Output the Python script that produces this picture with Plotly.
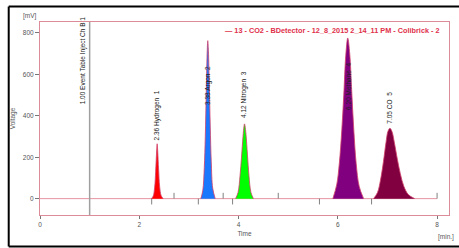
import plotly.graph_objects as go

# ---- data ----
peak_names = ["2.36 Hydrogen  1", "3.38 Argon  2", "4.12 Nitrogen  3", "6.20 Methane  4", "7.05 CO  5"]
peak_colors = ["#ff0000", "#1a78ff", "#00ff00", "#800080", "#800040"]
label_bottom_mv = [272, 444, 380, 420, 352]

h2_t = [2.24, 2.28, 2.31, 2.33, 2.35, 2.36, 2.37, 2.39, 2.41, 2.44, 2.48]
h2_v = [0, 12, 55, 130, 230, 265, 235, 140, 60, 15, 0]

ar_t = [3.24, 3.28, 3.31, 3.33, 3.35, 3.37, 3.38, 3.39, 3.41, 3.43, 3.45, 3.48, 3.53]
ar_v = [0, 40, 150, 300, 520, 720, 763, 730, 560, 350, 180, 50, 0]

n2_t = [3.94, 3.99, 4.03, 4.06, 4.09, 4.11, 4.12, 4.13, 4.15, 4.18, 4.21, 4.25, 4.30]
n2_v = [0, 30, 110, 200, 300, 350, 361, 352, 310, 210, 110, 30, 0]

ch4_t = [5.90, 5.98, 6.03, 6.08, 6.12, 6.16, 6.20, 6.24, 6.28, 6.32, 6.37, 6.43, 6.52]
ch4_v = [0, 70, 170, 330, 500, 690, 776, 700, 520, 340, 170, 60, 0]

co_t = [6.72, 6.80, 6.86, 6.92, 6.97, 7.01, 7.05, 7.09, 7.14, 7.20, 7.26, 7.33, 7.42, 7.55]
co_v = [0, 30, 90, 180, 270, 325, 340, 325, 270, 190, 120, 60, 20, 0]

peak_times = [2.36, 3.38, 4.12, 6.20, 7.05]
baseline_t = [0.0, 8.0]
baseline_v = [0, 0]

event_up_t = [2.70, 3.69, 4.80, 8.00]
event_down_t = [2.25, 3.19, 3.88, 5.63, 6.68]
inject_t = 1.00
inject_label = "1.00 Event Table Inject Ch B 1"

x_ticks = [0, 2, 4, 6, 8]
y_ticks = [0, 200, 400, 600, 800]
legend_text = "\u2014 13 - CO2 - BDetector - 12_8_2015 2_14_11 PM - Colibrick - 2"

# ---- figure ----
fig = go.Figure()
FONT = "Liberation Sans, Arial, sans-serif"

fig.add_trace(go.Scatter(x=baseline_t, y=baseline_v, mode="lines",
                         line=dict(color="rgba(215,90,110,0.65)", width=1),
                         hoverinfo="skip", showlegend=False))

series = [(h2_t, h2_v), (ar_t, ar_v), (n2_t, n2_v), (ch4_t, ch4_v), (co_t, co_v)]
for (t, v), col in zip(series, peak_colors):
    fig.add_trace(go.Scatter(x=t, y=v, mode="lines", line_shape="spline",
                             fill="tozeroy", fillcolor=col,
                             line=dict(color="#d0406a", width=0.8),
                             hoverinfo="skip", showlegend=False))

# integration event marks
ex, ey = [], []
for t in event_up_t:
    ex += [t, t, None]; ey += [0, 28, None]
for t in event_down_t:
    ex += [t, t, None]; ey += [0, -28, None]
fig.add_trace(go.Scatter(x=ex, y=ey, mode="lines", line=dict(color="#808080", width=1),
                         hoverinfo="skip", showlegend=False))

# injection line
fig.add_shape(type="line", x0=inject_t, x1=inject_t, y0=0, y1=1, xref="x", yref="paper",
              line=dict(color="#a0a0a0", width=1.5))
fig.add_annotation(x=inject_t, y=444, text=inject_label, textangle=-90, showarrow=False,
                   xanchor="right", yanchor="bottom", xshift=-1,
                   font=dict(family=FONT, size=6.5, color="#222"))

for name, t, yb in zip(peak_names, peak_times, label_bottom_mv):
    fig.add_annotation(x=t, y=yb, text=name, textangle=-90, showarrow=False,
                       xanchor="center", yanchor="bottom",
                       font=dict(family=FONT, size=6.5, color="#222"))

# legend-like title
fig.add_annotation(xref="paper", yref="paper", x=0.983, y=0.955, text="<b>" + legend_text + "</b>",
                   showarrow=False, xanchor="right", yanchor="middle",
                   font=dict(family=FONT, size=7.3, color="#e0304a"))

# unit labels
fig.add_annotation(xref="paper", yref="paper", x=-0.025, y=1.0, text="[mV]", showarrow=False,
                   xanchor="center", yanchor="bottom", font=dict(family=FONT, size=6.5, color="#555"))
fig.add_annotation(xref="paper", yref="paper", x=1.018, y=-0.085, text="[min.]", showarrow=False,
                   xanchor="right", yanchor="top", font=dict(family=FONT, size=6.5, color="#555"))

# outer black frame (three visible edges)
fx0, fx1, fy0, fy1 = -0.0765, 1.06, -0.163, 1.08
for a, b, c, d in [(fx0, fy1, fx1, fy1), (fx0, fy0, fx1, fy0), (fx0, fy0, fx0, fy1)]:
    fig.add_shape(type="line", xref="paper", yref="paper", x0=a, y0=b, x1=c, y1=d,
                  line=dict(color="black", width=2), layer="above")

pink = "#dc8c98"
fig.update_layout(
    width=459, height=248,
    margin=dict(l=40, r=10, t=22, b=33),
    paper_bgcolor="white", plot_bgcolor="white",
    font=dict(family=FONT, size=6.5, color="#555"),
    xaxis=dict(range=[0, 8.24], tickvals=x_ticks, ticks="outside", ticklen=3, tickcolor="#777",
               showgrid=False, zeroline=False, showline=True, linecolor=pink, linewidth=1, mirror=True,
               automargin=False,
               title=dict(text="Time", font=dict(size=6.5, color="#555"), standoff=4),
               tickfont=dict(size=6.5, color="#555")),
    yaxis=dict(range=[-79, 853], tickvals=y_ticks, ticks="outside", ticklen=4, tickcolor="#777",
               showgrid=False, zeroline=False, showline=True, linecolor=pink, linewidth=1, mirror=True,
               automargin=False,
               title=dict(text="Voltage", font=dict(size=6.5, color="#555"), standoff=6),
               tickfont=dict(size=6.5, color="#555")),
)

fig.write_html("out.html", config={"displayModeBar": False},
               post_script="document.body.style.margin='0';document.body.style.overflow='hidden';")
